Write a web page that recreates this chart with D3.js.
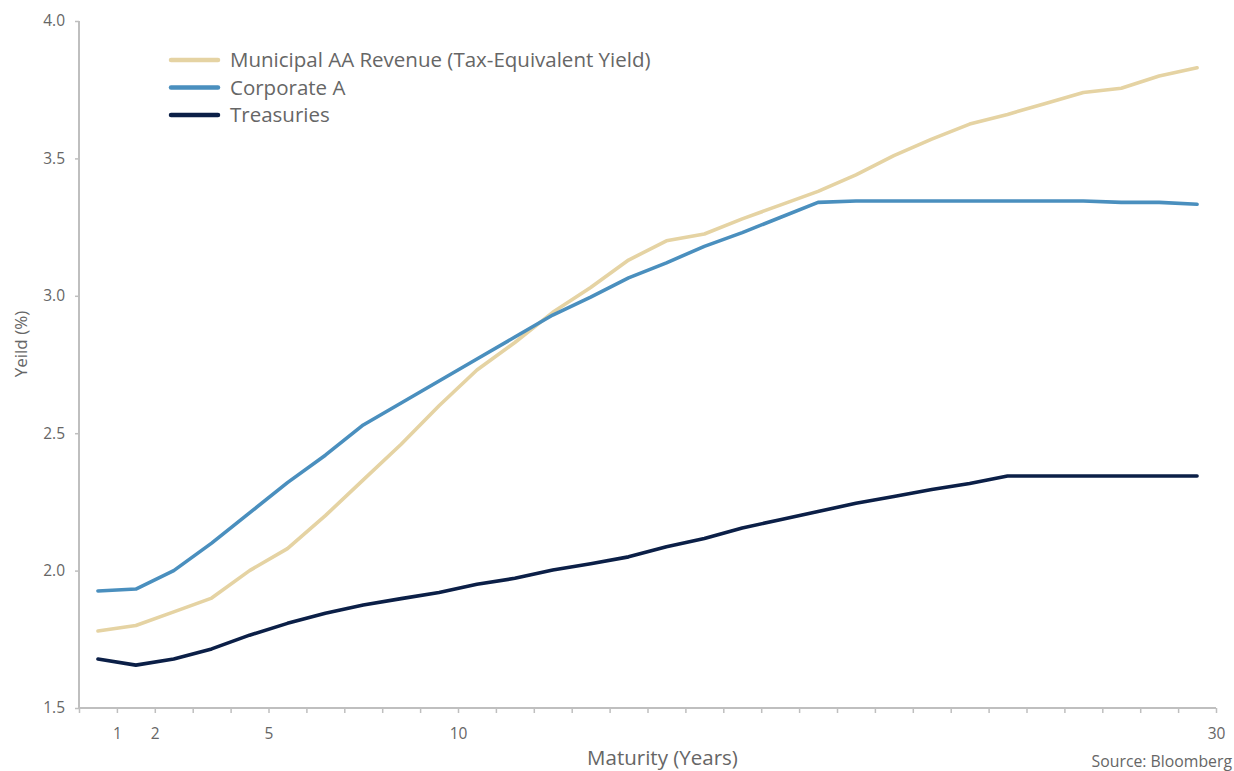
<!DOCTYPE html>
<html>
<head>
<meta charset="utf-8">
<script src="https://cdn.jsdelivr.net/npm/d3@7"></script>
<style>
  body { margin: 0; background: #fff; }
  text { font-family: "Open Sans", Lato, sans-serif; fill: #666; }
</style>
</head>
<body>
<div id="chart"></div>
<script>
// maturities in years (one category each)
var maturities = d3.range(1, 31);
var tickLabels = [1, 2, 5, 10, 30];
var yTicks = [1.5, 2.0, 2.5, 3.0, 3.5, 4.0];

var municipal = [1.78, 1.80, 1.85, 1.90, 2.00, 2.08, 2.20, 2.33, 2.46, 2.60,
                 2.73, 2.83, 2.94, 3.03, 3.13, 3.20, 3.225, 3.28, 3.33, 3.38,
                 3.44, 3.51, 3.57, 3.625, 3.66, 3.70, 3.74, 3.755, 3.80, 3.83];
var corporate = [1.926, 1.933, 2.00, 2.10, 2.21, 2.32, 2.42, 2.53, 2.61, 2.69,
                 2.77, 2.85, 2.93, 2.995, 3.065, 3.12, 3.18, 3.23, 3.285, 3.34,
                 3.345, 3.345, 3.345, 3.345, 3.345, 3.345, 3.345, 3.34, 3.34, 3.333];
var treasuries = [1.678, 1.656, 1.678, 1.715, 1.765, 1.808, 1.845, 1.875, 1.898, 1.92,
                  1.95, 1.972, 2.002, 2.025, 2.05, 2.087, 2.117, 2.155, 2.185, 2.215,
                  2.245, 2.27, 2.295, 2.317, 2.344, 2.344, 2.344, 2.344, 2.344, 2.344];

var seriesNames = ["Municipal AA Revenue (Tax-Equivalent Yield)", "Corporate A", "Treasuries"];
var seriesColors = ["#e5d3a3", "#4a8fbe", "#0b1f47"];
var seriesValues = [municipal, corporate, treasuries];

var width = 1234, height = 771;
var margin = {top: 21, right: 18, bottom: 63, left: 79};
var w = width - margin.left - margin.right;
var h = height - margin.top - margin.bottom;

var svg = d3.select("#chart").append("svg")
  .attr("width", width)
  .attr("height", height)
  .append("g")
  .attr("transform", `translate(${margin.left}, ${margin.top})`);

/* Scales */
var xBand = d3.scaleBand().domain(maturities).range([0, w]);
var xTick = d3.scaleLinear().domain([0, 30]).range([0, w]);
var yScale = d3.scaleLinear().domain([1.5, 4.0]).range([h, 0]);

/* Axes */
var xAxis = d3.axisBottom(xTick)
  .tickValues(d3.range(0, 31))
  .tickSize(5)
  .tickFormat(d => tickLabels.includes(d) ? d : "");
var yAxis = d3.axisLeft(yScale)
  .tickValues(yTicks)
  .tickSize(4)
  .tickFormat(d3.format(".1f"));

var gx = svg.append("g")
  .attr("class", "x axis")
  .attr("transform", `translate(0, ${h})`)
  .call(xAxis);
gx.selectAll("text").attr("dy", "1.5em").style("font-size", "15.5px");

var gy = svg.append("g")
  .attr("class", "y axis")
  .call(yAxis);
gy.selectAll("text").attr("dx", "-0.45em").style("font-size", "15.5px");

svg.selectAll(".axis path, .axis line").attr("stroke", "#bfbfbf").attr("stroke-width", 1.5);
svg.selectAll(".axis .domain").attr("d", null);
gx.append("line").attr("x1", 0).attr("x2", w).attr("stroke", "#bfbfbf").attr("stroke-width", 2);
gy.append("line").attr("y1", 0).attr("y2", h).attr("stroke", "#bfbfbf").attr("stroke-width", 2);

/* Lines */
var line = d3.line()
  .x((d, i) => xBand(maturities[i]) + xBand.bandwidth() / 2)
  .y(d => yScale(d));

svg.append("g").attr("class", "lines")
  .selectAll("path")
  .data(seriesValues).enter()
  .append("path")
  .attr("d", d => line(d))
  .attr("fill", "none")
  .attr("stroke", (d, i) => seriesColors[i])
  .attr("stroke-width", 3.6)
  .attr("stroke-linejoin", "round")
  .attr("stroke-linecap", "round");

/* Legend */
var legend = svg.append("g")
  .attr("transform", "translate(92, 39)");
var items = legend.selectAll("g")
  .data(seriesNames).enter()
  .append("g")
  .attr("transform", (d, i) => `translate(0, ${i * 27.5})`);
items.append("line")
  .attr("x1", 0).attr("x2", 47)
  .attr("stroke", (d, i) => seriesColors[i])
  .attr("stroke-width", 4.5)
  .attr("stroke-linecap", "round");
items.append("text")
  .attr("x", 59)
  .attr("dy", "0.35em")
  .style("font-size", "20.5px")
  .text(d => d);

/* Titles */
svg.append("text")
  .attr("x", w / 2 + 15)
  .attr("y", h + 57)
  .attr("text-anchor", "middle")
  .style("font-size", "20.5px")
  .text("Maturity (Years)");

svg.append("text")
  .attr("transform", "rotate(-90)")
  .attr("x", -323)
  .attr("y", -52)
  .attr("text-anchor", "middle")
  .style("font-size", "17px")
  .text("Yeild (%)");

svg.append("text")
  .attr("x", w + 16)
  .attr("y", h + 59)
  .attr("text-anchor", "end")
  .style("font-size", "15.8px")
  .text("Source: Bloomberg");
</script>
</body>
</html>
